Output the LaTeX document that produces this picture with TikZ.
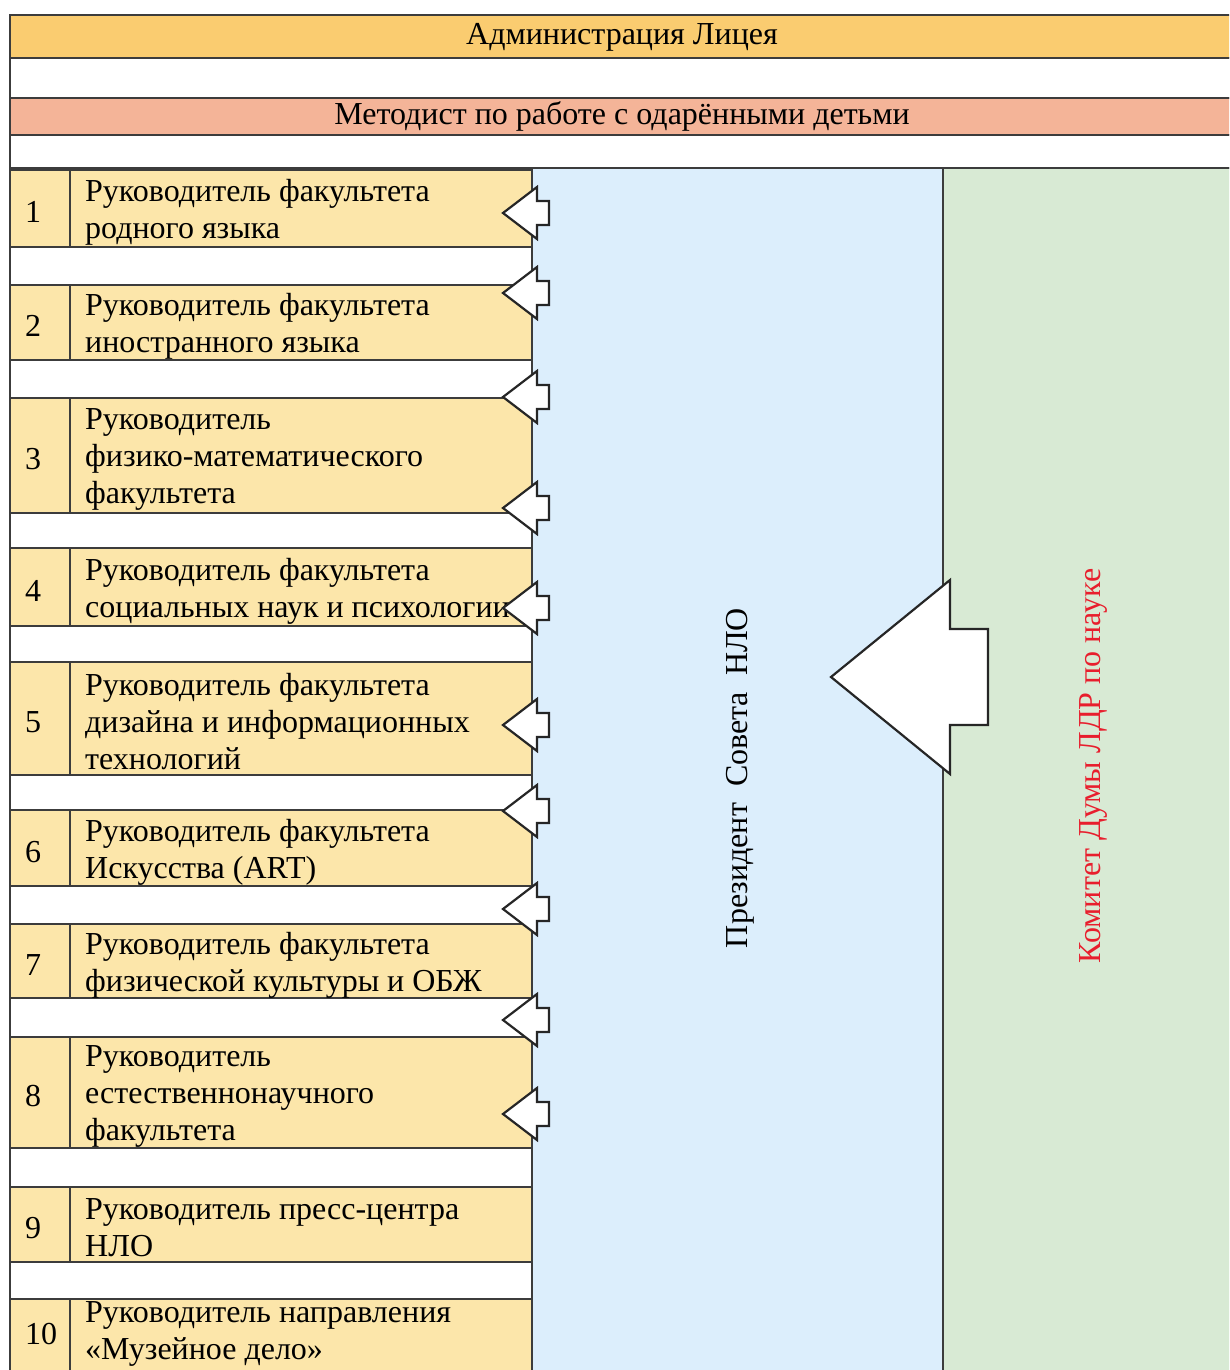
\documentclass[tikz,border=0pt]{standalone}
\usepackage{fontspec}
\setmainfont{Liberation Serif}
\definecolor{admfill}{RGB}{250,204,112}
\definecolor{metfill}{RGB}{244,180,152}
\definecolor{boxfill}{RGB}{252,230,170}
\definecolor{presfill}{RGB}{220,238,252}
\definecolor{komfill}{RGB}{216,234,212}
\definecolor{komred}{RGB}{232,30,45}
\definecolor{gridline}{RGB}{60,60,60}
\tikzset{
	grid line/.style={draw=gridline,line width=1.3pt},
	big text/.style={font=\fontsize{32}{37}\selectfont},
	facult/.style={big text,anchor=west,align=left,inner sep=0pt},
	num/.style={big text,anchor=west,inner sep=0pt},
}
\newcommand{\BlockArrow}[6]{
	% tip at (#1,#2), total length #3, head length #4, head half #5, shaft half #6
	\begin{scope}[xshift=#1pt,yshift=-#2pt]
		\draw[line width=2.2pt,fill=white,line join=miter,draw=black!85]
			(0,0)--(#4,#5)--(#4,#6)--(#3,#6)--(#3,-#6)--(#4,-#6)--(#4,-#5)--cycle;
	\end{scope}
}

\begin{document}
\begin{tikzpicture}[x=1pt,y=-1pt]
\useasboundingbox (0,0) rectangle (1229,1370);
\clip (0,0) rectangle (1229,1370);
\fill[white] (0,0) rectangle (1229,1370);
%top rows
\draw[grid line,fill=admfill] (10,15) rectangle (1240,58);
\draw[grid line,fill=white] (10,58) rectangle (1240,98);
\draw[grid line,fill=metfill] (10,98) rectangle (1240,135);
\draw[grid line,fill=white] (10,135) rectangle (1240,168);
\node[big text] (adm) at (622,37) {Администрация Лицея};
\node[big text] (met) at (622,116) {Методист по работе с одарёнными детьми};
%columns
\draw[grid line,fill=presfill] (532,168) rectangle (943,1380);
\draw[grid line,fill=komfill] (943,168) rectangle (1240,1380);
\draw[grid line] (10,168)--(10,1380);
%faculties
\foreach \n/\top/\bot/\ty/\txt in {
	1/170/247/212/{Руководитель факультета\\родного языка},
	2/285/360/326/{Руководитель факультета\\иностранного языка},
	3/398/513/459/{Руководитель\\физико-математического\\факультета},
	4/548/626/591/{Руководитель факультета\\социальных наук и психологии},
	5/662/775/722/{Руководитель факультета\\дизайна и информационных\\технологий},
	6/810/886/852/{Руководитель факультета\\Искусства (ART)},
	7/924/998/965/{Руководитель факультета\\физической культуры и ОБЖ},
	8/1037/1148/1096/{Руководитель\\естественнонаучного\\факультета},
	9/1187/1262/1228/{Руководитель пресс-центра\\НЛО},
	10/1299/1377/1334/{Руководитель направления\\«Музейное дело»}}{
	\draw[grid line,fill=boxfill] (10,\top) rectangle (532,\bot);
	\draw[grid line] (70,\top)--(70,\bot);
	\node[num] (n\n) at (25,\ty) {\n};
	\node[facult] (f\n) at (85,\ty) {\txt};
}
\node[big text,rotate=90] (pres) at (740,778) {Президент\ \ Совета\ \ НЛО};
\node[big text,rotate=90,text=komred] (kom) at (1093,766) {Комитет Думы ЛДР по науке};
%arrows
\foreach \y in {213,293,397,508,608,725,811,909,1020,1114}{
	\BlockArrow{503}{\y}{46}{34}{26}{12}
}
\BlockArrow{831}{677}{157}{119}{97}{48}
\end{tikzpicture}
\end{document}
